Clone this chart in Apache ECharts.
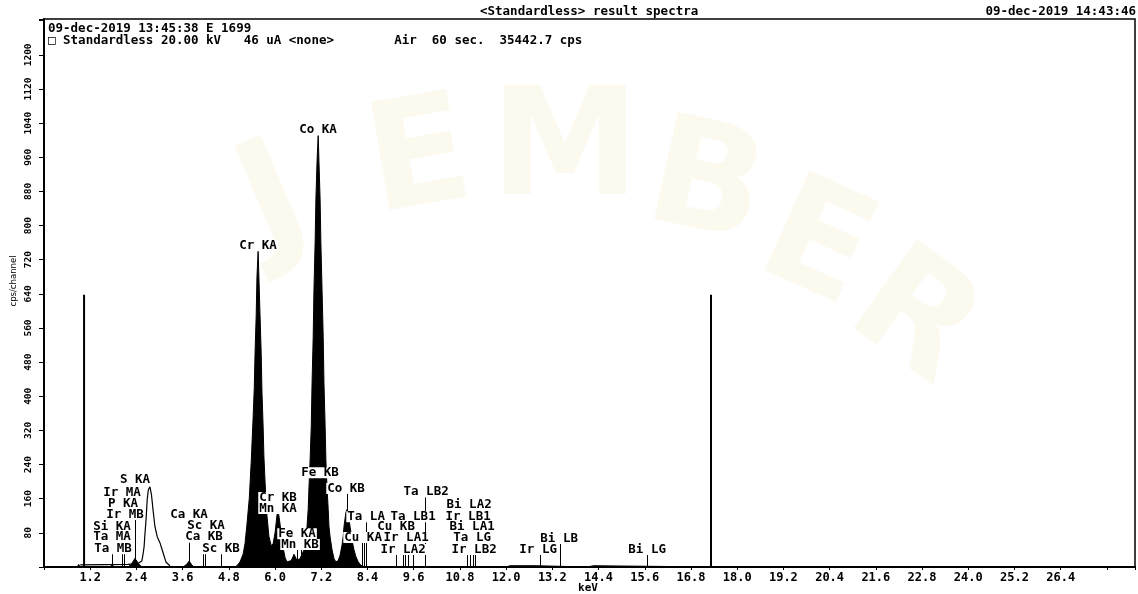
<!DOCTYPE html>
<html><head><meta charset="utf-8">
<script src="https://cdn.jsdelivr.net/npm/echarts@6/dist/echarts.min.js"></script>
<style>html,body{margin:0;padding:0;background:#fff}#c{width:1138px;height:594px}</style>
</head><body><div id="c"></div>
<script>
// ---- tick labels ----
const xTickLabels = [1.2,2.4,3.6,4.8,6.0,7.2,8.4,9.6,10.8,12.0,13.2,14.4,15.6,16.8,18.0,19.2,20.4,21.6,22.8,24.0,25.2,26.4];
const yTickLabels = [80,160,240,320,400,480,560,640,720,800,880,960,1040,1120,1200];

// ---- filled spectrum (keV, cps/channel) ----
const specKeV = [0.86,0.90,0.94,1.72,1.77,1.82,
  2.18,2.26,2.32,2.36,2.41,2.47,2.55,
  3.61,3.70,3.77,3.83,3.89,
  4.95,5.01,5.09,5.17,5.22,5.27,5.33,5.38,5.43,5.46,5.48,5.51,5.53,5.56,5.58,5.61,5.64,5.66,5.69,5.71,5.74,5.79,5.84,5.90,5.95,
  6.00,6.03,6.05,6.08,6.10,6.13,6.16,6.21,6.26,6.31,6.36,6.42,6.47,6.49,6.52,6.57,6.62,6.65,6.68,
  6.70,6.75,6.81,6.83,6.86,6.88,6.91,6.94,6.96,6.99,7.01,7.04,7.06,7.09,7.12,7.14,7.17,7.19,7.22,7.25,7.27,7.30,7.32,7.35,7.38,7.40,7.43,7.48,7.53,7.58,
  7.64,7.69,7.74,7.77,7.79,7.82,7.84,7.87,7.90,7.92,7.95,8.00,8.05,8.10,8.16,8.23,8.34,
  12.0,12.1,12.8,12.85,14.1,14.12,14.27,14.3,17.5];
const specCps = [0,6,0,0,6,0,
  0,6,14,20,14,6,0,
  0,6,14,6,0,
  0,3,12,30,55,100,160,245,350,420,500,590,680,740,680,590,500,410,330,260,200,120,72,50,55,
  80,105,122,128,120,100,80,45,22,12,10,15,25,30,25,15,18,20,16,
  22,40,70,95,135,185,250,330,430,540,650,760,860,950,1012,950,860,760,650,540,430,330,250,185,135,95,70,40,20,12,
  15,28,52,72,95,115,128,135,128,112,93,62,40,24,12,4,0,
  0,3,3,0,0,3,3,0,0];

// ---- outline trace (S KA region) ----
const outKeV = [0.94,2.18,2.44,2.54,2.57,2.60,2.62,2.65,2.68,2.71,2.75,2.79,2.83,2.88,2.94,3.01,3.09,3.17,3.27];
const outCps = [5,6,8,14,29,48,76,111,158,181,188,170,135,95,71,57,34,11,3];

// ---- KLM marker lines ----
const markerKeV = [1.77,2.02,2.08,2.36,3.77,4.12,4.18,4.59,6.56,6.67,7.86,8.25,8.31,8.36,9.14,9.32,9.38,9.46,9.59,9.90,10.99,11.07,11.14,11.19,12.87,13.40,15.66];
const markerTop = [34,34,34,111,57,34,34,34,41,41,171,57,57,105,29,33,33,33,35,163,29,29,29,29,29,57,29];
const cursorKeV = [1.04,17.32];
const cursorTop = [638,638];

// ---- peak labels ----
const labelText = ['Cr KA','Co KA','S KA','Ir MA','P KA','Ir MB','Si KA','Ta MA','Ta MB','Ca KA','Sc KA','Ca KB','Sc KB',
  'Cr KB','Mn KA','Fe KA','Mn KB','Fe KB','Co KB','Ta LA','Cu KA','Ta LB1','Cu KB','Ir LA1','Ir LA2','Ta LB2',
  'Bi LA2','Ir LB1','Bi LA1','Ta LG','Ir LB2','Bi LB','Ir LG','Bi LG'];
const labelKeV = [5.558,7.117,2.364,2.026,2.052,2.104,1.766,1.766,1.792,3.766,4.208,4.156,4.597,
  6.078,6.078,6.571,6.649,7.169,7.844,8.364,8.286,9.584,9.143,9.403,9.325,9.922,
  11.039,11.013,11.117,11.117,11.169,13.377,12.831,15.662];
const labelCps = [753,1024,205,174,149,123,95,71,43,123,97,71,43,
  163,137,78,53,221,184,118,69,118,95,69,41,177,
  146,118,95,69,41,67,41,41];

const MONO = '"DejaVu Sans Mono", monospace';
const chart = echarts.init(document.getElementById('c'), null, {renderer:'canvas'});

function near(list, v){ return list.some(t => Math.abs(t - v) < 1e-6); }

const wm = [['J',275,205,0.40],['E',420,165,0.17],['M',565,155,0],['B',705,190,-0.22],['E',815,250,-0.42],['R',912,322,-0.62]];

chart.setOption({
  animation:false,
  backgroundColor:'#fff',
  grid:{left:44,right:3,top:19,bottom:27,show:true,borderColor:'#000',borderWidth:1.5,backgroundColor:'transparent',
    containLabel:false,outerBoundsMode:'none'},
  xAxis:{type:'value',min:0,max:28.33,interval:1.2,
    axisLine:{lineStyle:{color:'#000',width:2}},
    axisTick:{show:true,length:3,lineStyle:{color:'#000',width:1}},
    splitLine:{show:false},
    axisLabel:{color:'#000',fontFamily:MONO,fontWeight:'bold',fontSize:12,margin:5,
      formatter:v => near(xTickLabels, Math.round(v*10)/10) ? (Math.round(v*10)/10).toFixed(1) : ''}},
  yAxis:{type:'value',min:0,max:1284,interval:80,
    axisLine:{show:true,lineStyle:{color:'#000',width:2}},
    axisTick:{show:true,length:5,lineStyle:{color:'#000',width:1}},
    splitLine:{show:false},
    axisLabel:{color:'#000',fontFamily:MONO,fontWeight:'bold',fontSize:9.5,rotate:90,margin:10,
      formatter:v => near(yTickLabels, v) ? String(v) : ''}},
  graphic:[
    ...wm.map(w => ({type:'text',x:w[1],y:w[2],rotation:w[3],silent:true,z:-10,
      style:{text:w[0],font:'bold 150px "DejaVu Sans"',fill:'rgba(228,208,120,0.12)',textAlign:'center',textVerticalAlign:'middle'}})),
    {type:'text',x:480,y:12,style:{text:'<Standardless> result spectra',font:'bold 12.5px '+MONO,fill:'#000',textVerticalAlign:'middle'}},
    {type:'text',x:1136,y:12,style:{text:'09-dec-2019 14:43:46',font:'bold 12.5px '+MONO,fill:'#000',textAlign:'right',textVerticalAlign:'middle'}},
    {type:'text',x:48,y:29,style:{text:'09-dec-2019 13:45:38 E 1699',font:'bold 12.5px '+MONO,fill:'#000',textVerticalAlign:'middle'}},
    {type:'text',x:48,y:41,style:{text:'\u25A1 Standardless 20.00 kV   46 uA <none>        Air  60 sec.  35442.7 cps',font:'bold 12.5px '+MONO,fill:'#000',textVerticalAlign:'middle'}},
    {type:'text',x:14,y:281,rotation:Math.PI/2,style:{text:'cps/channel',font:'8.5px "DejaVu Sans"',fill:'#000',textAlign:'center',textVerticalAlign:'middle'}},
    {type:'text',x:588,y:588,style:{text:'keV',font:'bold 11px '+MONO,fill:'#000',textAlign:'center',textVerticalAlign:'middle'}}
  ],
  series:[
    {type:'line',name:'spectrum',data:specKeV.map((e,i)=>[e,specCps[i]]),showSymbol:false,symbol:'none',
      lineStyle:{color:'#000',width:1},areaStyle:{color:'#000',opacity:1},z:2,silent:true},
    {type:'line',name:'outline',data:outKeV.map((e,i)=>[e,outCps[i]]),showSymbol:false,symbol:'none',
      lineStyle:{color:'#000',width:1.2},z:3,silent:true},
    {type:'custom',name:'markers',data:markerKeV.map((e,i)=>[e,markerTop[i]]),z:3,silent:true,
      renderItem:(p,api)=>{const a=api.coord([api.value(0),0]);const b=api.coord([api.value(0),api.value(1)]);
        return {type:'line',shape:{x1:Math.round(a[0])+0.5,y1:a[1],x2:Math.round(a[0])+0.5,y2:b[1]},style:{stroke:'#000',lineWidth:1}};}},
    {type:'custom',name:'cursors',data:cursorKeV.map((e,i)=>[e,cursorTop[i]]),z:3,silent:true,
      renderItem:(p,api)=>{const a=api.coord([api.value(0),0]);const b=api.coord([api.value(0),api.value(1)]);
        return {type:'line',shape:{x1:a[0],y1:a[1],x2:a[0],y2:b[1]},style:{stroke:'#000',lineWidth:2}};}},
    {type:'scatter',name:'labels',data:labelKeV.map((e,i)=>[e,labelCps[i],labelText[i]]),symbolSize:0,z:5,silent:true,
      itemStyle:{opacity:1},
      label:{show:true,position:'inside',formatter:p=>p.data[2],color:'#000',fontFamily:MONO,fontWeight:'bold',fontSize:12.5,
        lineHeight:11,backgroundColor:'#fff',opacity:1,padding:[0,1],align:'center',verticalAlign:'middle'}}
  ]
});
</script></body></html>
